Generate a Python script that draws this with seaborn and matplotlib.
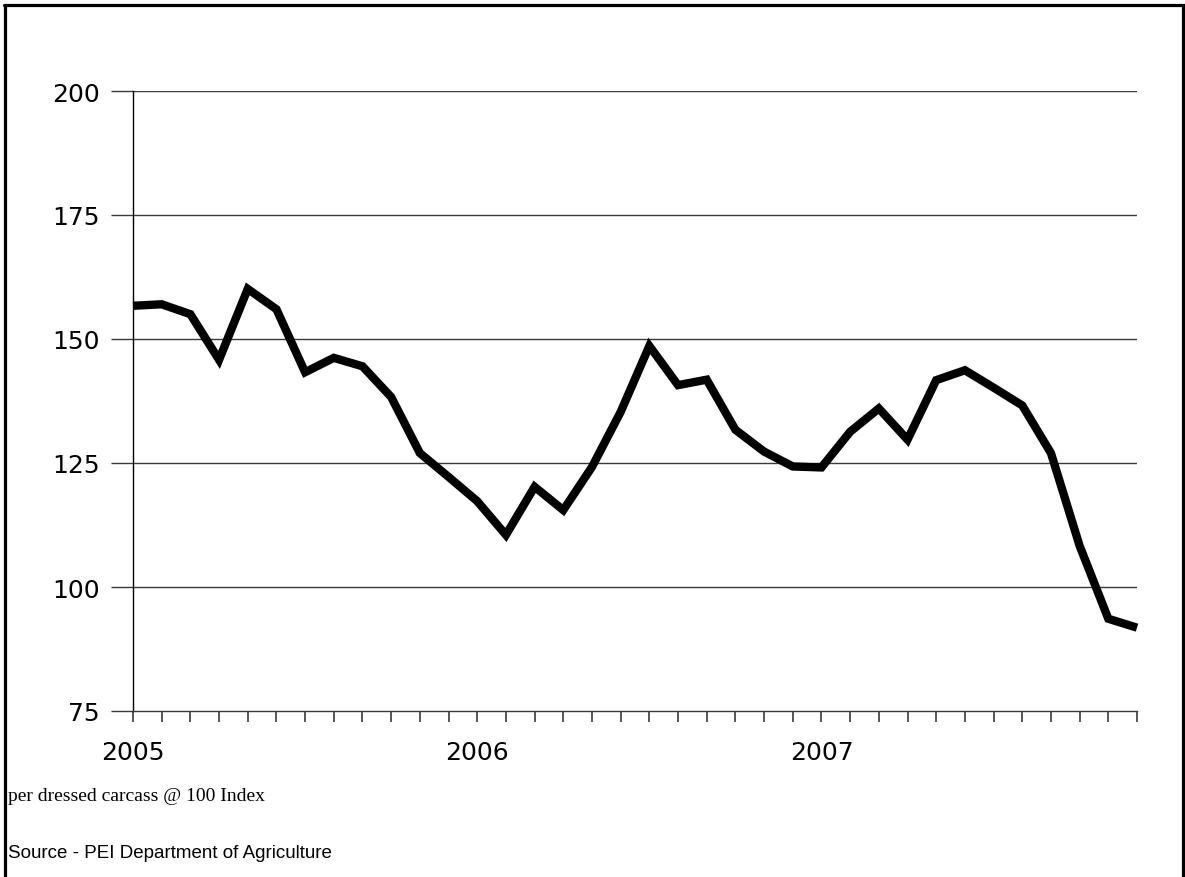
import matplotlib
matplotlib.use("Agg")
import matplotlib.pyplot as plt
from matplotlib.lines import Line2D
import numpy as np
import pandas as pd
import seaborn as sns

# ---- data ----
months = list(range(36))  # Jan 2005 .. Dec 2007
index_values = [156.7, 157.0, 155.0, 145.8, 160.1, 156.0, 143.3, 146.2, 144.5, 138.3,
                127.0, 122.2, 117.3, 110.5, 120.2, 115.5, 124.2, 135.3, 148.6, 140.7,
                141.8, 131.7, 127.3, 124.3, 124.1, 131.3, 136.0, 129.7, 141.7, 143.7,
                140.2, 136.6, 127.0, 108.3, 93.6, 91.8]
year_labels = ["2005", "2006", "2007"]
year_positions = [0, 12, 24]
y_ticks = [75, 100, 125, 150, 175, 200]

df = pd.DataFrame({"month": months, "value": index_values})

sns.set_theme(style="white")
plt.rcParams["font.family"] = ["DejaVu Sans"]

W, H = 1185, 878
fig = plt.figure(figsize=(W / 100, H / 100), dpi=100)
ax = fig.add_axes([133 / W, 1 - 712 / H, (1137 - 133) / W, (712 - 92) / H])

sns.lineplot(data=df, x="month", y="value", ax=ax, color="black", linewidth=6,
             solid_joinstyle="miter", solid_capstyle="butt", clip_on=False)

ax.set_xlim(0, 35)
ax.set_ylim(75, 200)
ax.set_xlabel("")
ax.set_ylabel("")

# gridlines
for yv in y_ticks[1:]:
    ax.axhline(yv, color="#3a3a3a", linewidth=1.0, zorder=0)

ax.set_yticks(y_ticks)
ax.set_yticklabels([str(v) for v in y_ticks], fontsize=18, color="black")
ax.tick_params(axis="y", direction="out", length=16, width=1.0, color="#3a3a3a",
               pad=8, left=True)

ax.set_xticks(year_positions)
ax.set_xticklabels(year_labels, fontsize=18, color="black")
ax.set_xticks(months, minor=True)
ax.tick_params(axis="x", which="both", direction="out", length=8, width=1.2,
               color="#3a3a3a", bottom=True)
ax.tick_params(axis="x", which="major", pad=13)

for side in ["top", "right"]:
    ax.spines[side].set_visible(False)
ax.spines["left"].set_color("black")
ax.spines["left"].set_linewidth(1.0)
ax.spines["bottom"].set_color("#3a3a3a")
ax.spines["bottom"].set_linewidth(1.0)
ax.grid(False)

# notes
fig.text(8 / W, 1 - 801 / H, "per dressed carcass @ 100 Index", fontsize=14,
         family=["Liberation Serif"], color="black", ha="left", va="baseline")
fig.text(8 / W, 1 - 858 / H, "Source - PEI Department of Agriculture", fontsize=13.5,
         family=["Liberation Sans"], color="black", ha="left", va="baseline")

# frame border (left, top, right)
fig.add_artist(Line2D([4.5 / W, 4.5 / W], [0, 1 - 5.5 / H], color="black", linewidth=2.3,
                      transform=fig.transFigure))
fig.add_artist(Line2D([3.5 / W, 1], [1 - 5.5 / H, 1 - 5.5 / H], color="black",
                      linewidth=2.3, transform=fig.transFigure))
fig.add_artist(Line2D([1183 / W, 1183 / W], [0, 1 - 5.5 / H], color="black",
                      linewidth=2.3, transform=fig.transFigure))

fig.savefig("out.png", dpi=100)
